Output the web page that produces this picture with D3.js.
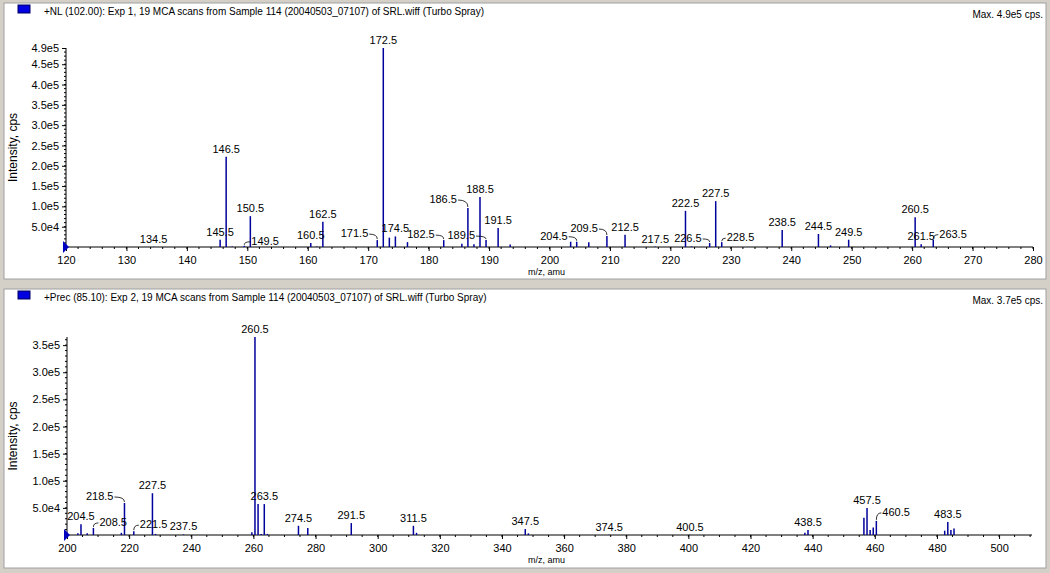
<!DOCTYPE html>
<html><head><meta charset="utf-8">
<script src="https://cdn.jsdelivr.net/npm/d3@7"></script>
<style>body{margin:0;background:#d4d0c8}svg{display:block;font-family:"Liberation Sans",Arial,sans-serif}</style>
</head><body><svg id="c" width="1050" height="573"></svg>
<script>
// ---- Panel 1 data: +NL (102.00)
const mz1 = [134.5,145.5,146.5,147.5,149.5,150.5,160.5,161.5,162.5,171.5,172.5,173.5,174.5,176.5,182.5,185.5,186.5,187.5,188.5,189.5,191.5,193.5,203.5,204.5,206.5,209.5,212.5,217.5,222.5,223.5,226.5,227.5,228.5,238.5,244.5,246.5,249.5,260.5,261.5,263.5];
const int1 = [500,18000,222000,1500,3000,76000,10000,1500,62000,17000,490000,23000,26000,12000,17000,8000,96000,7000,123000,17000,47000,6000,13000,13000,12000,27000,30000,1000,89000,1500,10000,113000,12000,42000,32000,4000,18000,73000,7000,18000];
const labels1 = [134.5,145.5,146.5,149.5,150.5,160.5,162.5,171.5,172.5,174.5,182.5,186.5,188.5,189.5,191.5,204.5,209.5,212.5,217.5,222.5,226.5,227.5,228.5,238.5,244.5,249.5,260.5,261.5,263.5];
const yTicks1 = [50000,100000,150000,200000,250000,300000,350000,400000,450000,490000];
const yTickLabels1 = ["5.0e4","1.0e5","1.5e5","2.0e5","2.5e5","3.0e5","3.5e5","4.0e5","4.5e5","4.9e5"];
const xTicks1 = [120,130,140,150,160,170,180,190,200,210,220,230,240,250,260,270,280];
// ---- Panel 2 data: +Prec (85.10)
const mz2 = [203.5,204.5,206.5,208.5,217.5,218.5,221.5,227.5,228.5,237.5,259.5,260.5,261.5,262.5,263.5,264.5,274.5,277.5,291.5,311.5,312.5,347.5,348.5,374.5,400.5,437.5,438.5,456.5,457.5,458.5,459.5,460.5,482.5,483.5,484.5,485.5];
const int2 = [3000,20000,3000,13000,4000,59000,7000,77000,2000,1000,5000,365000,57000,2000,57000,2000,17000,13000,22000,17000,4000,11000,3000,500,500,4000,9000,32000,50000,9000,14000,26000,8000,24000,9000,12000];
const labels2 = [204.5,208.5,218.5,221.5,227.5,237.5,260.5,263.5,274.5,291.5,311.5,347.5,374.5,400.5,438.5,457.5,460.5,483.5];
const yTicks2 = [50000,100000,150000,200000,250000,300000,350000];
const yTickLabels2 = ["5.0e4","1.0e5","1.5e5","2.0e5","2.5e5","3.0e5","3.5e5"];
const xTicks2 = [200,220,240,260,280,300,320,340,360,380,400,420,440,460,480,500];

const panels = [
 {title:"+NL (102.00): Exp 1, 19 MCA scans from Sample 114 (20040503_07107) of SRL.wiff (Turbo Spray)", max:"Max. 4.9e5 cps.",
  mz:mz1, int:int1, labels:labels1, yt:yTicks1, ytl:yTickLabels1, xt:xTicks1, xdom:[120,280], ydom:[0,490000], ymax:490000,
  box:[4,3,1046,279], x0:66, x1:1033, yb:247, yt0:48, minorX:2,
  lead:{171.5:[-8,-6,"l"],186.5:[-10,-8,"l"],189.5:[-10,-4,"l"],182.5:[-8,-5,"l"],204.5:[-8,-5,"l"],209.5:[-8,-7,"l"],226.5:[-7,-4,"l"],228.5:[4,-4,"r"],149.5:[6,-4,"r"],263.5:[5,-5,"r"]}},
 {title:"+Prec (85.10): Exp 2, 19 MCA scans from Sample 114 (20040503_07107) of SRL.wiff (Turbo Spray)", max:"Max. 3.7e5 cps.",
  mz:mz2, int:int2, labels:labels2, yt:yTicks2, ytl:yTickLabels2, xt:xTicks2, xdom:[200,510.6], ydom:[0,365000], ymax:365000,
  box:[4,289,1046,568], x0:67, x1:1032, yb:535, yt0:337, minorX:5,
  lead:{218.5:[-10,-6,"l"],208.5:[5,-5,"r"],221.5:[5,-6,"r"],460.5:[5,-8,"r"]}}
];
const svg = d3.select("#c");
const blue = "#00009c";
panels.forEach(p=>{
  const [bx0,by0,bx1,by1]=p.box;
  svg.append("rect").attr("x",bx0).attr("y",by0).attr("width",bx1-bx0).attr("height",by1-by0).attr("fill","#fff")
    .attr("stroke","#a0a0a0");
  svg.append("rect").attr("x",bx0+14).attr("y",by0+2).attr("width",12).attr("height",8).attr("fill","#0000e0").attr("stroke","#000060");
  svg.append("text").attr("x",bx0+40).attr("y",by0+12).attr("font-size",10).text(p.title);
  svg.append("text").attr("x",bx1-3).attr("y",by0+15).attr("font-size",10).attr("text-anchor","end").text(p.max);
  const x=d3.scaleLinear().domain(p.xdom).range([p.x0,p.x1]);
  const y=d3.scaleLinear().domain(p.ydom).range([p.yb,p.yt0]);
  const xa=svg.append("g").attr("transform",`translate(0,${p.yb})`).call(d3.axisBottom(x).tickValues(p.xt).tickSize(4).tickFormat(d3.format("d")));
  xa.select(".domain").attr("d",`M${p.x0},0H${p.x1}`);
  xa.selectAll("text").attr("font-size",11).attr("font-family","Liberation Sans, Arial").attr("dy","0.9em");
  const mn=d3.range(p.xdom[0],p.xdom[1]+0.01,p.minorX);
  svg.append("g").selectAll("line").data(mn).join("line").attr("x1",d=>x(d)).attr("x2",d=>x(d)).attr("y1",p.yb).attr("y2",p.yb+2).attr("stroke","#000");
  const ya=svg.append("g").attr("transform",`translate(${p.x0},0)`).call(d3.axisLeft(y).tickValues(p.yt).tickSize(4).tickFormat((d,i)=>p.ytl[i]));
  ya.select(".domain").attr("d",`M0,${p.yb}V${y(p.ymax)}`);
  ya.selectAll("text").attr("font-size",11).attr("font-family","Liberation Sans, Arial");
  const ymn=d3.range(0,p.ymax,10000);
  svg.append("g").selectAll("line").data(ymn).join("line").attr("x1",p.x0-2).attr("x2",p.x0).attr("y1",d=>y(d)).attr("y2",d=>y(d)).attr("stroke","#000");
  svg.append("path").attr("d",`M${p.x0-3},${p.yb-6}L${p.x0+3},${p.yb}L${p.x0-3},${p.yb+6}Z`).attr("fill","#0000c0");
  svg.append("text").attr("transform",`translate(17,${(p.yb+p.yt0)/2}) rotate(-90)`).attr("text-anchor","middle").attr("font-size",12).text("Intensity, cps");
  svg.append("text").attr("x",528).attr("y",p.yb+28).attr("font-size",9).text("m/z, amu");
  svg.append("g").selectAll("line").data(p.mz).join("line")
    .attr("x1",d=>x(d)).attr("x2",d=>x(d)).attr("y1",p.yb).attr("y2",(d,i)=>y(p.int[i]))
    .attr("stroke",blue).attr("stroke-width",1.5);
  p.labels.forEach(m=>{
    const i=p.mz.indexOf(m); const px=x(m), py=y(p.int[i]);
    const L=p.lead[m];
    if(L){
      const lx=px+L[0], ly=py+L[1];
      svg.append("path").attr("d",`M${px},${py-1}Q${px},${ly} ${lx},${ly}`).attr("fill","none").attr("stroke","#000").attr("stroke-width",0.8);
      svg.append("text").attr("x",lx+(L[2]==="l"?-1:1)).attr("y",ly+3).attr("font-size",11)
        .attr("text-anchor",L[2]==="l"?"end":"start").text(m.toFixed(1));
    } else {
      svg.append("text").attr("x",px).attr("y",py-4).attr("font-size",11).attr("text-anchor","middle").text(m.toFixed(1));
    }
  });
});
</script></body></html>
